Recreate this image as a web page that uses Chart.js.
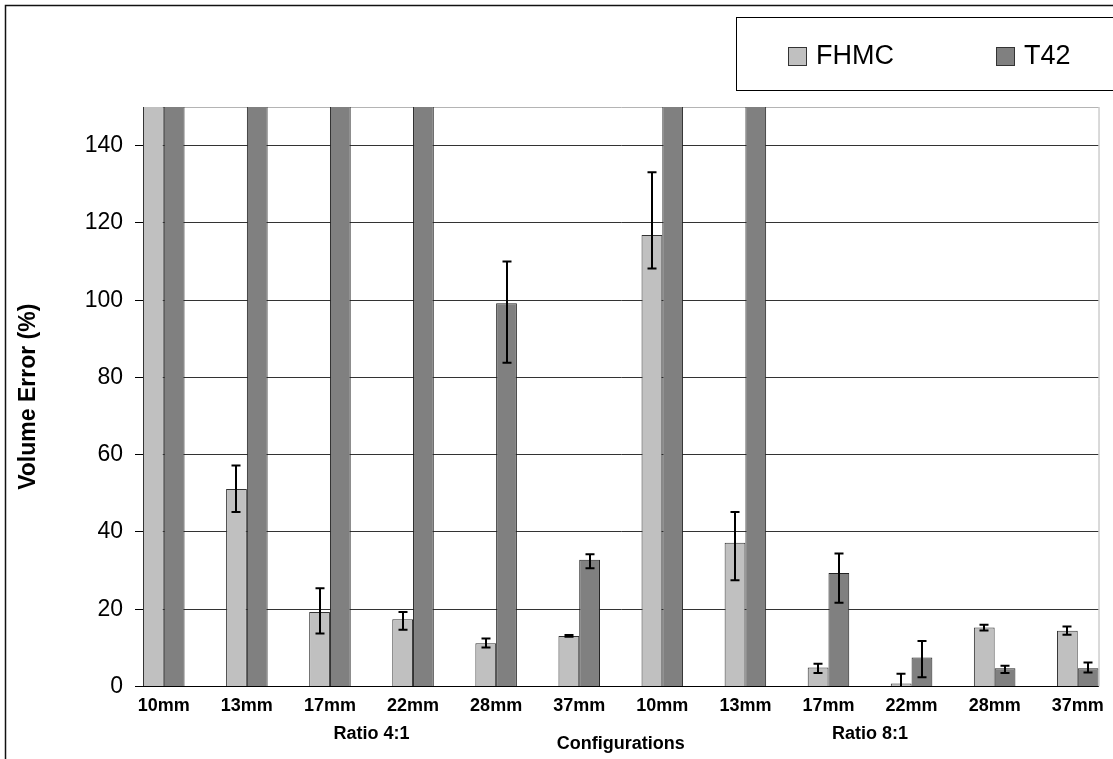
<!DOCTYPE html>
<html>
<head>
<meta charset="utf-8">
<script src="https://cdn.jsdelivr.net/npm/chart.js@4.4.1/dist/chart.umd.min.js"></script>
<style>
  html, body { margin: 0; padding: 0; background: #fff; overflow: hidden; }
  #wrap { width: 1113px; height: 759px; }
</style>
</head>
<body>
<div id="wrap"><canvas id="chart" width="1113" height="759"></canvas></div>
<script>
// categories (x axis), two ratio groups of six
const sizes = ['10mm', '13mm', '17mm', '22mm', '28mm', '37mm', '10mm', '13mm', '17mm', '22mm', '28mm', '37mm'];
const groups = ['Ratio 4:1', 'Ratio 8:1'];
const yTicks = [0, 20, 40, 60, 80, 100, 120, 140, 150];

// values (bars above 150 are cut off by the axis)
const fhmc      = [180, 51.1, 19.3, 17.4, 11.2, 13.1, 116.9, 37.2, 4.9, 0.8, 15.3, 14.4];
const fhmcPlus  = [0,    6.1,  6.1,  1.9,  1.2,  0.2,  16.2,  8.0, 1.0, 2.5,  0.7,  1.1];
const fhmcMinus = [0,    5.9,  5.6,  2.7,  1.1,  0.2,   8.7,  9.7, 1.4, 2.5,  0.8,  1.0];
const t42       = [200, 200, 200, 200, 99.2, 32.8, 200, 200, 29.4, 7.5, 4.7, 4.7];
const t42Plus   = [0,   0,   0,   0,  10.8,  1.4,  0,   0,   5.0, 4.3, 0.7, 1.5];
const t42Minus  = [0,   0,   0,   0,  15.4,  2.2,  0,   0,   7.7, 5.1, 1.2, 1.1];

const FONT = '"Liberation Sans", Arial, sans-serif';
Chart.defaults.font.family = FONT;
Chart.defaults.color = '#000';

const groupSize = sizes.length / groups.length;
const groupCenters = groups.map((g, i) => i * groupSize + (groupSize - 1) / 2);
const xMin = -0.25, xMax = sizes.length - 0.75;

/* === PLUGINS === */
const frame = {
  id: 'frame',
  beforeDatasetsDraw(chart) {
    const { ctx, chartArea } = chart;
    ctx.save();
    ctx.strokeStyle = '#b4b4b4';
    ctx.lineWidth = 1;
    ctx.beginPath();
    ctx.moveTo(chartArea.right + 0.5, chartArea.top);
    ctx.lineTo(chartArea.right + 0.5, chartArea.bottom);
    ctx.stroke();
    ctx.restore();
  },
  afterDraw(chart) {
    const ctx = chart.ctx;
    ctx.save();
    ctx.strokeStyle = '#111';
    ctx.lineWidth = 1.5;
    ctx.strokeRect(5.5, 5.5, 2000, 2000);
    ctx.restore();
  }
};

const errorBars = {
  id: 'errorBars',
  afterDatasetsDraw(chart) {
    const { ctx, chartArea, scales: { y } } = chart;
    ctx.save();
    ctx.beginPath();
    ctx.rect(chartArea.left, chartArea.top, chartArea.right - chartArea.left, chartArea.bottom - chartArea.top);
    ctx.clip();
    ctx.strokeStyle = '#000';
    ctx.lineWidth = 2;
    chart.data.datasets.forEach((ds, di) => {
      const meta = chart.getDatasetMeta(di);
      meta.data.forEach((bar, i) => {
        const plus = ds.errPlus[i], minus = ds.errMinus[i];
        if (!plus && !minus) return;
        const v = ds.data[i].y;
        const x = Math.round(bar.x);
        const top = y.getPixelForValue(v + plus);
        const bot = y.getPixelForValue(v - minus);
        ctx.beginPath();
        ctx.moveTo(x, top); ctx.lineTo(x, bot);
        ctx.moveTo(x - 4.5, top); ctx.lineTo(x + 4.5, top);
        ctx.moveTo(x - 4.5, bot); ctx.lineTo(x + 4.5, bot);
        ctx.stroke();
      });
    });
    ctx.restore();
  }
};

const legendBox = {
  id: 'legendBox',
  afterDraw(chart) {
    const ctx = chart.ctx;
    ctx.save();
    ctx.strokeStyle = '#000';
    ctx.lineWidth = 1;
    ctx.strokeRect(736.5, 17.5, 600, 73);
    const itemX = [788, 996];
    ctx.font = '27px ' + FONT;
    ctx.textBaseline = 'alphabetic';
    ctx.fillStyle = '#000';
    chart.data.datasets.forEach((ds, i) => {
      const x = itemX[i];
      ctx.fillStyle = ds.backgroundColor;
      ctx.fillRect(x, 47, 18, 18);
      ctx.strokeStyle = '#333';
      ctx.strokeRect(x + 0.5, 47.5, 18, 18);
      ctx.fillStyle = '#000';
      ctx.fillText(ds.label, x + 28, 64);
    });
    ctx.restore();
  }
};

/* === CHART === */
new Chart(document.getElementById('chart'), {
  type: 'bar',
  data: {
    datasets: [
      {
        label: 'FHMC',
        data: fhmc.map((v, i) => ({ x: i, y: v })),
        errPlus: fhmcPlus,
        errMinus: fhmcMinus,
        backgroundColor: '#c0c0c0',
        borderColor: '#333',
        borderWidth: 1,
        categoryPercentage: 0.5,
        barPercentage: 1.0
      },
      {
        label: 'T42',
        data: t42.map((v, i) => ({ x: i, y: v })),
        errPlus: t42Plus,
        errMinus: t42Minus,
        backgroundColor: '#808080',
        borderColor: '#222',
        borderWidth: 1,
        categoryPercentage: 0.5,
        barPercentage: 1.0
      }
    ]
  },
  options: {
    responsive: false,
    animation: false,
    layout: { padding: { left: 0, top: 107, right: 11, bottom: 4 } },
    plugins: {
      legend: { display: false },
      tooltip: { enabled: false }
    },
    scales: {
      x: {
        type: 'linear',
        position: 'bottom',
        offset: false,
        min: xMin,
        max: xMax,
        afterBuildTicks: scale => { scale.ticks = sizes.map((s, i) => ({ value: i })); },
        afterFit: scale => { scale.height = 31; },
        grid: { display: false, drawTicks: false },
        border: { display: true, color: '#000', width: 1 },
        ticks: {
          autoSkip: false,
          maxRotation: 0,
          padding: 9,
          font: { size: 18, weight: 'bold' },
          callback: v => sizes[v]
        }
      },
      x2: {
        type: 'linear',
        position: 'bottom',
        offset: false,
        min: xMin,
        max: xMax,
        afterBuildTicks: scale => { scale.ticks = groupCenters.map(v => ({ value: v })); },
        afterFit: scale => { scale.height = 37.5; },
        grid: { display: false, drawTicks: false },
        border: { display: false },
        ticks: {
          autoSkip: false,
          maxRotation: 0,
          padding: 6,
          font: { size: 18, weight: 'bold' },
          callback: v => groups[groupCenters.indexOf(v)]
        },
        title: {
          display: true,
          text: 'Configurations',
          font: { size: 18, weight: 'bold' },
          padding: { top: -12, bottom: 0 }
        }
      },
      y: {
        min: 0,
        max: 150,
        afterBuildTicks: scale => { scale.ticks = yTicks.map(v => ({ value: v })); },
        afterFit: scale => { scale.width = 143; },
        grid: {
          color: c => c.tick && c.tick.value === 150 ? '#b4b4b4' : '#333',
          tickColor: c => c.tick && c.tick.value === 150 ? 'rgba(0,0,0,0)' : '#000',
          tickLength: 8,
          lineWidth: 1
        },
        border: { display: true, color: '#000', width: 1 },
        ticks: {
          padding: 12,
          font: { size: 23 },
          callback: v => (v === 150 ? '' : v)
        },
        title: {
          display: true,
          text: 'Volume Error (%)',
          font: { size: 23, weight: 'bold' },
          padding: { top: 15, bottom: 0 }
        }
      }
    }
  },
  plugins: [frame, errorBars, legendBox]
});
</script>
</body>
</html>
